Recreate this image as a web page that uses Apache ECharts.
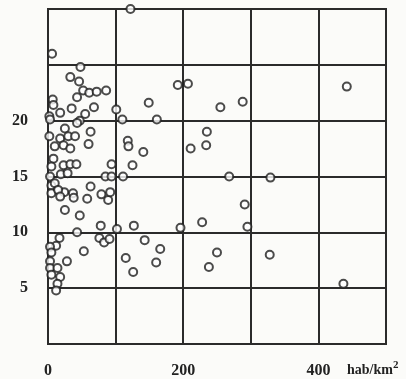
<!DOCTYPE html>
<html>
<head>
<meta charset="utf-8">
<script src="https://cdn.jsdelivr.net/npm/echarts@6/dist/echarts.min.js"></script>
<style>
html,body{margin:0;padding:0;background:#fbfbf9;}
#c{width:406px;height:379px;}
</style>
</head>
<body>
<div id="c"></div>
<script>
// population density (hab/km²)
const density = [
122,6,48,33,46,52,43,61,72,86,7,8,35,68,55,18,2,3,47,43,
101,110,149,161,192,207,442,255,288,235,234,211,268,329,25,63,2,18,30,40,
10,23,33,60,118,119,141,8,5,23,33,42,94,125,3,19,29,85,94,111,
5,10,63,24,37,5,15,18,38,58,79,89,92,25,47,43,78,102,127,76,
83,91,143,166,196,228,291,295,250,115,160,238,126,328,437,17,12,3,5,3,
28,53,3,14,5,18,14,12
];
// values on the vertical axis
const values = [
30.0,26.0,24.8,23.9,23.5,22.7,22.1,22.5,22.6,22.7,21.9,21.4,21.1,21.2,20.6,20.7,20.4,20.1,20.0,19.8,
21.0,20.1,21.6,20.1,23.2,23.3,23.05,21.2,21.7,19.0,17.8,17.5,15.0,14.9,19.3,19.0,18.6,18.4,18.6,18.6,
17.7,17.8,17.5,17.9,18.2,17.7,17.2,16.6,15.9,16.0,16.1,16.1,16.1,16.0,15.0,15.2,15.3,15.0,15.0,15.0,
14.2,14.4,14.1,13.6,13.5,13.5,13.8,13.2,13.1,13.0,13.4,12.9,13.6,12.0,11.5,10.0,10.6,10.3,10.6,9.5,
9.1,9.4,9.3,8.5,10.4,10.9,12.5,10.5,8.2,7.7,7.3,6.9,6.45,8.0,5.4,9.5,8.8,8.7,8.2,7.4,
7.4,8.3,6.8,6.8,6.2,6.0,5.4,4.8
];
const xTickLabels = ['0', '200', '400'];
const yTickLabels = ['5', '10', '15', '20'];

const points = density.map((d, i) => [d, values[i]]);
const lineCol = '#2b2b2b';
const fontFam = '"Liberation Serif","DejaVu Serif",serif';

const chart = echarts.init(document.getElementById('c'));
chart.setOption({
  backgroundColor: '#fbfbf9',
  animation: false,
  grid: {left: 48, right: 20, top: 9, bottom: 35, show: true, borderColor: lineCol, borderWidth: 2},
  xAxis: {
    type: 'value', min: 0, max: 500, interval: 100,
    axisLine: {show: true, lineStyle: {color: lineCol, width: 2}},
    axisTick: {show: false},
    splitLine: {show: true, lineStyle: {color: lineCol, width: 2}},
    axisLabel: {
      margin: 19, color: '#222', fontFamily: fontFam, fontSize: 16, fontWeight: 'bold',
      formatter: v => xTickLabels.includes(String(v)) ? String(v) : ''
    }
  },
  yAxis: {
    type: 'value', min: 0, max: 30, interval: 5,
    axisLine: {show: true, lineStyle: {color: lineCol, width: 2}},
    axisTick: {show: false},
    splitLine: {show: true, lineStyle: {color: lineCol, width: 2}},
    axisLabel: {
      margin: 20, color: '#222', fontFamily: fontFam, fontSize: 16, fontWeight: 'bold',
      formatter: v => yTickLabels.includes(String(v)) ? String(v) : ''
    }
  },
  graphic: [{
    type: 'text', left: 347, top: 360,
    style: {
      text: 'hab/km{s|2}',
      fill: '#222', font: 'bold 14px ' + fontFam,
      rich: {s: {fontSize: 11, fontWeight: 'bold', fontFamily: fontFam, verticalAlign: 'top', padding: [0,0,9,0], fill: '#222'}}
    }
  }],
  series: [{
    type: 'scatter',
    data: points,
    clip: false,
    symbol: 'emptyCircle',
    symbolSize: 8,
    itemStyle: {color: '#1e1e1e', borderColor: '#1e1e1e', borderWidth: 2.6},
    z: 5
  }]
});
</script>
</body>
</html>
